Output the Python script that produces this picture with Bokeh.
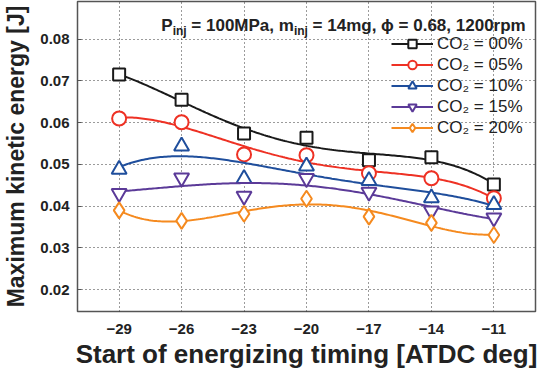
import numpy as np
from bokeh.plotting import figure
from bokeh.models import Legend, LegendItem, Label, FixedTicker
from bokeh.embed import file_html
from bokeh.resources import INLINE

# ---- data ----
timing = [-29, -26, -23, -20, -17, -14, -11]
co2_00 = [0.0715, 0.0655, 0.0574, 0.0564, 0.0510, 0.0517, 0.0452]
co2_05 = [0.0610, 0.0601, 0.0524, 0.0522, 0.0479, 0.0467, 0.0419]
co2_10 = [0.0488, 0.0544, 0.0466, 0.0496, 0.0461, 0.0420, 0.0404]
co2_15 = [0.0431, 0.0468, 0.0424, 0.0467, 0.0434, 0.0389, 0.0372]
co2_20 = [0.0390, 0.0365, 0.0382, 0.0418, 0.0375, 0.0360, 0.0331]
labels = ["CO\u2082 = 00%", "CO\u2082 = 05%", "CO\u2082 = 10%", "CO\u2082 = 15%", "CO\u2082 = 20%"]
x_ticks = [-29, -26, -23, -20, -17, -14, -11]
y_ticks = [0.02, 0.03, 0.04, 0.05, 0.06, 0.07, 0.08]

series = [co2_00, co2_05, co2_10, co2_15, co2_20]
colors = ["#1a1a1a", "#ee3124", "#1f4e9c", "#5b3a98", "#f58a1f"]
markers = ["square", "circle", "triangle", "inverted_triangle", "diamond"]
msizes = [12, 14, 15, 15, 16]

FONT = "Liberation Sans"

p = figure(width=538, height=371, output_backend="svg", toolbar_location=None,
           x_range=(-31, -9), y_range=(0.0148, 0.089),
           min_border_left=76, min_border_right=3, min_border_top=1, min_border_bottom=59)

p.background_fill_color = "white"
p.outline_line_color = "#555555"
p.outline_line_width = 1.5

for ax in (p.xaxis[0], p.yaxis[0]):
    ax.axis_line_color = None
    ax.major_label_text_font = FONT
    ax.major_label_text_font_style = "bold"
    ax.major_label_text_font_size = "15px"
    ax.major_label_text_color = "#222222"
    ax.axis_label_text_font = FONT
    ax.axis_label_text_font_style = "bold"
    ax.axis_label_text_color = "#222222"
    ax.minor_tick_line_color = None

p.xaxis.axis_label_text_font_size = "26px"
p.yaxis.axis_label_text_font_size = "23px"
p.xaxis.ticker = FixedTicker(ticks=x_ticks)
p.yaxis.ticker = FixedTicker(ticks=y_ticks)
p.xaxis.major_tick_line_color = None
p.yaxis.major_tick_in = 4
p.yaxis.major_tick_out = 0
p.yaxis.major_tick_line_color = "#555555"
p.xaxis.major_label_standoff = 6
p.yaxis.major_label_standoff = 8
p.xaxis.axis_label = "Start of energizing timing [ATDC deg]"
p.yaxis.axis_label = "Maximum kinetic energy [J]"
p.xaxis.axis_label_standoff = 2
p.yaxis.axis_label_standoff = 8

p.grid.grid_line_color = "#222222"
p.grid.grid_line_dash = "1 3"
p.grid.grid_line_width = 1
p.grid.grid_line_alpha = 0.9

items = []
xs = np.linspace(min(timing), max(timing), 200)
for vals, c, m, s, lab in zip(series, colors, markers, msizes, labels):
    coef = np.polyfit(timing, vals, 4)
    ys = np.polyval(coef, xs)
    ln = p.line(xs, ys, line_color=c, line_width=2)
    sc = p.scatter(timing, vals, marker=m, size=s, line_color=c, line_width=2,
                   fill_color="white")
    items.append(LegendItem(label=lab, renderers=[ln, sc]))

legend = Legend(items=items, location=(310, 169), background_fill_alpha=0,
                border_line_alpha=0, glyph_width=42, glyph_height=21,
                label_height=21, spacing=0, padding=4, margin=0,
                label_standoff=4, label_text_font=FONT,
                label_text_font_size="17px", label_text_color="#222222")
p.add_layout(legend)

# ---- in-plot condition text with subscripts ----
NB = "\u00a0"
W = {'P': 667, 'i': 278, 'n': 611, 'j': 278, ' ': 278, NB: 278, '=': 584, '1': 556,
     '0': 556, '2': 556, '4': 556, '6': 556, '8': 556, 'M': 833, 'a': 556, ',': 278,
     'm': 889, 'g': 611, '\u03d5': 620, '.': 278, 'r': 389, 'p': 611}
def tw(s, size):
    return sum(W.get(ch, 556) for ch in s) / 1000.0 * size

F = 17
SF = 12
pieces = [("P", F, 0), ("inj", SF, -5), (NB + "= 100MPa, m", F, 0), ("inj", SF, -5),
          (NB + "= 14mg, \u03d5 = 0.68, 1200rpm", F, 0)]
total = sum(tw(t, sz) for t, sz, _ in pieces)
x0 = 530 - 84 - total  # right end near frame right
ybase = 312 - 26       # from frame bottom (screen units)
for t, sz, dy in pieces:
    p.add_layout(Label(x=x0, y=ybase + dy, x_units="screen", y_units="screen", text=t,
                       text_font=FONT, text_font_style="bold", text_font_size=f"{sz}px",
                       text_color="#222222", text_baseline="alphabetic"))
    x0 += tw(t, sz)

open("out.html", "w").write(file_html(p, INLINE))
